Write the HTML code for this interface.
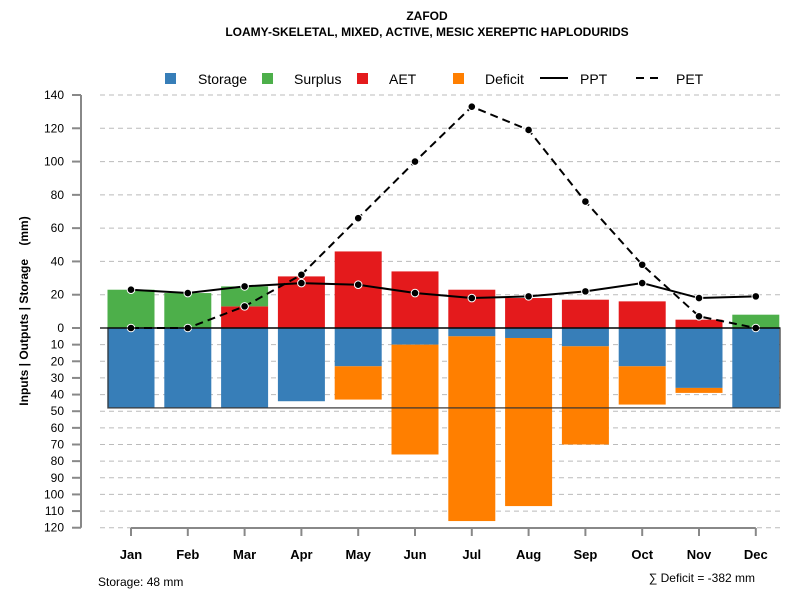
<!DOCTYPE html>
<html><head><meta charset="utf-8"><style>body{margin:0;background:#fff}svg{display:block;font-family:"Liberation Sans",sans-serif}</style></head>
<body>
<svg id="c" width="800" height="600"></svg>
<script>
const months=["Jan","Feb","Mar","Apr","May","Jun","Jul","Aug","Sep","Oct","Nov","Dec"];
const storage=[48,48,48,44,23,10,5,6,11,23,36,48];
const deficit=[0,0,0,0,20,66,111,101,59,23,3,0];
const aet=[0,0,13,31,46,34,23,18,17,16,5,0];
const surplus=[23,21,12,0,0,0,0,0,0,0,0,8];
const ppt=[23,21,25,27,26,21,18,19,22,27,18,19];
const pet=[0,0,13,32,66,100,133,119,76,38,7,0];
const posTicks=[0,20,40,60,80,100,120,140];
const negTicks=[10,20,30,40,50,60,70,80,90,100,110,120];
const storageMax=48, totalDeficit=-382;

const svg=document.getElementById('c');
const NS='http://www.w3.org/2000/svg';
function el(t,a,p){const e=document.createElementNS(NS,t);for(const k in a)e.setAttribute(k,a[k]);(p||svg).appendChild(e);return e;}
const y0=328,k=233/140;
const Y=v=>y0-v*k;
const X=i=>131+i*56.8;
const bw=47;

posTicks.concat(negTicks.map(v=>-v)).forEach(v=>{if(v===0)return;const g=el('line',{x1:100,x2:780,y1:Y(v),y2:Y(v),stroke:'#bbb','stroke-dasharray':'5,4'});

});

months.forEach((m,i)=>{
 const x=X(i)-bw/2;
 const r1=el('rect',{x:x,y:Y(0),width:bw,height:storage[i]*k,fill:'#377eb8'});
 
 
 if(deficit[i]>0){const r=el('rect',{x:x,y:Y(-storage[i]),width:bw,height:deficit[i]*k,fill:'#ff7f00'});
 
 }
 if(aet[i]>0){const r=el('rect',{x:x,y:Y(aet[i]),width:bw,height:aet[i]*k,fill:'#e41a1c'});
 
 }
 if(surplus[i]>0){const r=el('rect',{x:x,y:Y(aet[i]+surplus[i]),width:bw,height:surplus[i]*k,fill:'#4daf4a'});
 
 }
});
const sb=el('rect',{x:108,y:Y(0),width:672,height:storageMax*k,fill:'none',stroke:'#333','stroke-opacity':0.8,'stroke-width':1.5});



function line(d,dash,name){
 const p=el('polyline',{points:d.map((v,i)=>X(i)+','+Y(v)).join(' '),fill:'none',stroke:'#000','stroke-width':2,'stroke-dasharray':dash});
 
 
 d.forEach((v,i)=>{const c=el('circle',{cx:X(i),cy:Y(v),r:3.8,fill:'#000',stroke:'#fff','stroke-width':1});
 
 });
}
line(ppt,'none','ppt');
line(pet,'8,5','pet');

const ya=el('line',{x1:81,x2:81,y1:Y(140),y2:Y(-120),stroke:'#888','stroke-width':2});


posTicks.concat(negTicks.map(v=>-v)).forEach(v=>{
 const t=el('line',{x1:72,x2:81,y1:Y(v),y2:Y(v),stroke:'#888','stroke-width':2});
 
 
 const tx=el('text',{x:64,y:Y(v)+4,'text-anchor':'end','font-size':12});
 tx.textContent=Math.abs(v);
 
 
});
const xa=el('line',{x1:X(0),x2:X(11),y1:528,y2:528,stroke:'#888','stroke-width':2});


months.forEach((m,i)=>{
 const t=el('line',{x1:X(i),x2:X(i),y1:528,y2:536,stroke:'#888','stroke-width':2});
 
 
 const tx=el('text',{x:X(i),y:559,'text-anchor':'middle','font-size':13,'font-weight':'bold'});
 tx.textContent=m;
 
 
});
const z=el('line',{x1:100,x2:780,y1:y0,y2:y0,stroke:'#000','stroke-width':1.2});



function txt(s,a,name){const t=el('text',a);t.textContent=s;return t;}
txt('ZAFOD',{x:427,y:20,'text-anchor':'middle','font-size':12,'font-weight':'bold'},'chart-title');
txt('LOAMY-SKELETAL, MIXED, ACTIVE, MESIC XEREPTIC HAPLODURIDS',{x:427,y:36,'text-anchor':'middle','font-size':12,'font-weight':'bold'},'chart-subtitle');
txt('Inputs | Outputs | Storage\u00a0\u00a0\u00a0\u00a0(mm)',{x:28,y:311,'text-anchor':'middle','font-size':12,'font-weight':'bold',transform:'rotate(-90 28 311)'},'y-axis-title');
txt('Storage: 48 mm',{x:98,y:586,'font-size':12},'storage-note');
txt('∑ Deficit = '+totalDeficit+' mm',{x:755,y:582,'text-anchor':'end','font-size':12},'deficit-note');

const leg=[['Storage','#377eb8',165,198],['Surplus','#4daf4a',262,294],['AET','#e41a1c',357,389],['Deficit','#ff7f00',453,485]];
leg.forEach(l=>{const r=el('rect',{x:l[2],y:73,width:11,height:11,fill:l[1]});


txt(l[0],{x:l[3],y:84,'font-size':14},'legend-entry-'+l[0].toLowerCase());});
const l1=el('line',{x1:540,x2:568,y1:78,y2:78,stroke:'#000','stroke-width':2});


txt('PPT',{x:580,y:84,'font-size':14},'legend-entry-ppt');
const l2=el('line',{x1:636,x2:664,y1:78,y2:78,stroke:'#000','stroke-width':2,'stroke-dasharray':'8,6'});


txt('PET',{x:676,y:84,'font-size':14},'legend-entry-pet');
</script>
</body></html>
